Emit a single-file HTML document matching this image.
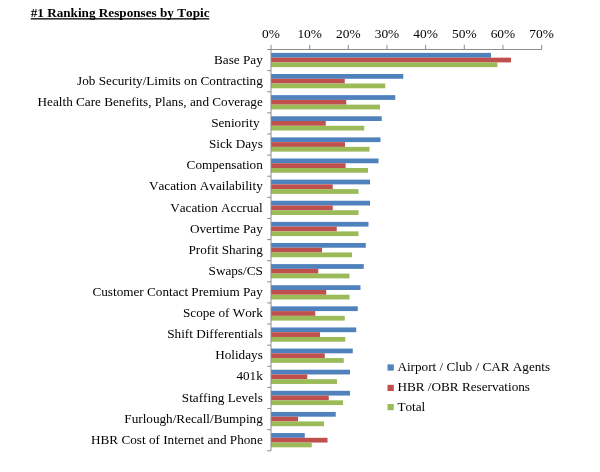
<!DOCTYPE html>
<html><head><meta charset="utf-8"><title>#1 Ranking Responses by Topic</title>
<style>
html,body{margin:0;padding:0;background:#fff;}
body{width:600px;height:472px;overflow:hidden;}
svg{display:block;}
text{font-family:"Liberation Serif","Times New Roman",serif;fill:#000;font-kerning:none;}
.lab{font-size:13.2px;text-anchor:end;white-space:pre;}
.tk{font-size:13.4px;text-anchor:middle;}
.lg{font-size:13.2px;}
.ttl{font-size:13.2px;font-weight:bold;}
.ax{stroke:#8c8c8c;stroke-width:1;fill:none;}
</style></head><body>
<svg width="600" height="472" viewBox="0 0 600 472">
<rect width="600" height="472" fill="#fff"/>
<text class="ttl" x="30.7" y="17.2">#1 Ranking Responses by Topic</text>
<rect x="30.7" y="18.2" width="178.6" height="1.3" fill="#000"/>

<rect x="271.0" y="52.90" width="220.00" height="4.75" fill="#4f81bd"/>
<rect x="271.0" y="57.65" width="240.00" height="4.75" fill="#c0504d"/>
<rect x="271.0" y="62.40" width="226.40" height="4.75" fill="#9bbb59"/>
<text class="lab" x="262.8" y="63.66" xml:space="preserve">Base Pay</text>
<rect x="271.0" y="74.02" width="132.25" height="4.75" fill="#4f81bd"/>
<rect x="271.0" y="78.77" width="73.75" height="4.75" fill="#c0504d"/>
<rect x="271.0" y="83.52" width="114.25" height="4.75" fill="#9bbb59"/>
<text class="lab" x="262.8" y="84.78" xml:space="preserve">Job Security/Limits on Contracting</text>
<rect x="271.0" y="95.14" width="124.25" height="4.75" fill="#4f81bd"/>
<rect x="271.0" y="99.89" width="75.25" height="4.75" fill="#c0504d"/>
<rect x="271.0" y="104.64" width="109.00" height="4.75" fill="#9bbb59"/>
<text class="lab" x="262.8" y="105.90" xml:space="preserve">Health Care Benefits, Plans, and Coverage</text>
<rect x="271.0" y="116.26" width="110.75" height="4.75" fill="#4f81bd"/>
<rect x="271.0" y="121.01" width="54.75" height="4.75" fill="#c0504d"/>
<rect x="271.0" y="125.76" width="93.25" height="4.75" fill="#9bbb59"/>
<text class="lab" x="262.8" y="127.02" xml:space="preserve">Seniority </text>
<rect x="271.0" y="137.38" width="109.50" height="4.75" fill="#4f81bd"/>
<rect x="271.0" y="142.13" width="74.00" height="4.75" fill="#c0504d"/>
<rect x="271.0" y="146.88" width="98.50" height="4.75" fill="#9bbb59"/>
<text class="lab" x="262.8" y="148.14" xml:space="preserve">Sick Days</text>
<rect x="271.0" y="158.50" width="107.50" height="4.75" fill="#4f81bd"/>
<rect x="271.0" y="163.25" width="74.60" height="4.75" fill="#c0504d"/>
<rect x="271.0" y="168.00" width="97.00" height="4.75" fill="#9bbb59"/>
<text class="lab" x="262.8" y="169.26" xml:space="preserve">Compensation</text>
<rect x="271.0" y="179.62" width="99.00" height="4.75" fill="#4f81bd"/>
<rect x="271.0" y="184.37" width="61.75" height="4.75" fill="#c0504d"/>
<rect x="271.0" y="189.12" width="87.50" height="4.75" fill="#9bbb59"/>
<text class="lab" x="262.8" y="190.38" xml:space="preserve">Vacation Availability</text>
<rect x="271.0" y="200.74" width="99.00" height="4.75" fill="#4f81bd"/>
<rect x="271.0" y="205.49" width="61.75" height="4.75" fill="#c0504d"/>
<rect x="271.0" y="210.24" width="87.50" height="4.75" fill="#9bbb59"/>
<text class="lab" x="262.8" y="211.50" xml:space="preserve">Vacation Accrual</text>
<rect x="271.0" y="221.86" width="97.50" height="4.75" fill="#4f81bd"/>
<rect x="271.0" y="226.61" width="65.75" height="4.75" fill="#c0504d"/>
<rect x="271.0" y="231.36" width="87.50" height="4.75" fill="#9bbb59"/>
<text class="lab" x="262.8" y="232.62" xml:space="preserve">Overtime Pay</text>
<rect x="271.0" y="242.98" width="94.75" height="4.75" fill="#4f81bd"/>
<rect x="271.0" y="247.73" width="51.00" height="4.75" fill="#c0504d"/>
<rect x="271.0" y="252.48" width="81.00" height="4.75" fill="#9bbb59"/>
<text class="lab" x="262.8" y="253.74" xml:space="preserve">Profit Sharing</text>
<rect x="271.0" y="264.10" width="92.75" height="4.75" fill="#4f81bd"/>
<rect x="271.0" y="268.85" width="47.25" height="4.75" fill="#c0504d"/>
<rect x="271.0" y="273.60" width="78.50" height="4.75" fill="#9bbb59"/>
<text class="lab" x="262.8" y="274.86" xml:space="preserve">Swaps/CS</text>
<rect x="271.0" y="285.22" width="89.50" height="4.75" fill="#4f81bd"/>
<rect x="271.0" y="289.97" width="55.25" height="4.75" fill="#c0504d"/>
<rect x="271.0" y="294.72" width="78.50" height="4.75" fill="#9bbb59"/>
<text class="lab" x="262.8" y="295.98" xml:space="preserve">Customer Contact Premium Pay</text>
<rect x="271.0" y="306.34" width="86.75" height="4.75" fill="#4f81bd"/>
<rect x="271.0" y="311.09" width="44.25" height="4.75" fill="#c0504d"/>
<rect x="271.0" y="315.84" width="73.75" height="4.75" fill="#9bbb59"/>
<text class="lab" x="262.8" y="317.10" xml:space="preserve">Scope of Work</text>
<rect x="271.0" y="327.46" width="85.25" height="4.75" fill="#4f81bd"/>
<rect x="271.0" y="332.21" width="49.00" height="4.75" fill="#c0504d"/>
<rect x="271.0" y="336.96" width="74.25" height="4.75" fill="#9bbb59"/>
<text class="lab" x="262.8" y="338.22" xml:space="preserve">Shift Differentials</text>
<rect x="271.0" y="348.58" width="81.75" height="4.75" fill="#4f81bd"/>
<rect x="271.0" y="353.33" width="53.75" height="4.75" fill="#c0504d"/>
<rect x="271.0" y="358.08" width="72.75" height="4.75" fill="#9bbb59"/>
<text class="lab" x="262.8" y="359.34" xml:space="preserve">Holidays</text>
<rect x="271.0" y="369.70" width="79.00" height="4.75" fill="#4f81bd"/>
<rect x="271.0" y="374.45" width="36.25" height="4.75" fill="#c0504d"/>
<rect x="271.0" y="379.20" width="66.00" height="4.75" fill="#9bbb59"/>
<text class="lab" x="262.8" y="380.46" xml:space="preserve">401k</text>
<rect x="271.0" y="390.82" width="79.00" height="4.75" fill="#4f81bd"/>
<rect x="271.0" y="395.57" width="57.75" height="4.75" fill="#c0504d"/>
<rect x="271.0" y="400.32" width="72.00" height="4.75" fill="#9bbb59"/>
<text class="lab" x="262.8" y="401.58" xml:space="preserve">Staffing Levels</text>
<rect x="271.0" y="411.94" width="64.75" height="4.75" fill="#4f81bd"/>
<rect x="271.0" y="416.69" width="27.00" height="4.75" fill="#c0504d"/>
<rect x="271.0" y="421.44" width="53.00" height="4.75" fill="#9bbb59"/>
<text class="lab" x="262.8" y="422.70" xml:space="preserve">Furlough/Recall/Bumping</text>
<rect x="271.0" y="433.06" width="33.75" height="4.75" fill="#4f81bd"/>
<rect x="271.0" y="437.81" width="56.50" height="4.75" fill="#c0504d"/>
<rect x="271.0" y="442.56" width="40.75" height="4.75" fill="#9bbb59"/>
<text class="lab" x="262.8" y="443.82" xml:space="preserve">HBR Cost of Internet and Phone</text>
<path class="ax" d="M271.0 49.5H541.62M271.0 49.5V450.78"/>
<path class="ax" d="M271.00 44.9V49.5M309.66 44.9V49.5M348.32 44.9V49.5M386.98 44.9V49.5M425.64 44.9V49.5M464.30 44.9V49.5M502.96 44.9V49.5M541.62 44.9V49.5M267.2 49.50H271.0M267.2 70.62H271.0M267.2 91.74H271.0M267.2 112.86H271.0M267.2 133.98H271.0M267.2 155.10H271.0M267.2 176.22H271.0M267.2 197.34H271.0M267.2 218.46H271.0M267.2 239.58H271.0M267.2 260.70H271.0M267.2 281.82H271.0M267.2 302.94H271.0M267.2 324.06H271.0M267.2 345.18H271.0M267.2 366.30H271.0M267.2 387.42H271.0M267.2 408.54H271.0M267.2 429.66H271.0M267.2 450.78H271.0"/>
<text class="tk" x="271.00" y="38">0%</text>
<text class="tk" x="309.66" y="38">10%</text>
<text class="tk" x="348.32" y="38">20%</text>
<text class="tk" x="386.98" y="38">30%</text>
<text class="tk" x="425.64" y="38">40%</text>
<text class="tk" x="464.30" y="38">50%</text>
<text class="tk" x="502.96" y="38">60%</text>
<text class="tk" x="541.62" y="38">70%</text>
<rect x="387.5" y="364.4" width="6.3" height="6.2" fill="#4f81bd"/>
<text class="lg" x="397.4" y="371">Airport / Club / CAR Agents</text>
<rect x="387.5" y="384.8" width="6.3" height="6.2" fill="#c0504d"/>
<text class="lg" x="397.4" y="391.4">HBR /OBR Reservations</text>
<rect x="387.5" y="404" width="6.3" height="6.2" fill="#9bbb59"/>
<text class="lg" x="397.4" y="411">Total</text>
</svg></body></html>
